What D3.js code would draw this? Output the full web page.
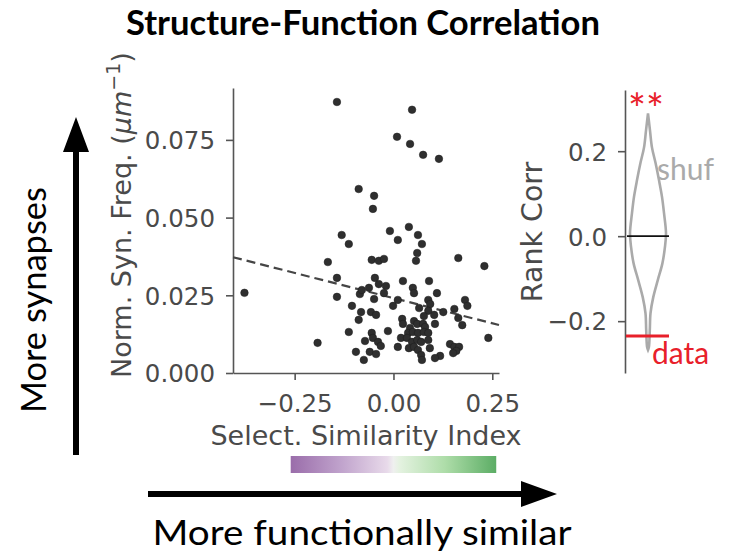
<!DOCTYPE html>
<html>
<head>
<meta charset="utf-8">
<script src="https://cdn.jsdelivr.net/npm/d3@7"></script>
<style>
  body { margin: 0; background: #fff; }
  svg { display: block; }
</style>
</head>
<body>
<svg id="fig" width="729" height="552"></svg>
<script>
// ---- Scatter: selectivity similarity index vs. normalized synapse frequency ----
const simIndex = [
  -0.143, 0.047, 0.009, 0.042, 0.075, 0.115, -0.088, -0.049, -0.052, -0.131,
  -0.113, -0.166, -0.143, -0.377, -0.143, -0.105, -0.082, -0.088, -0.113, -0.192,
  -0.072, -0.095, -0.075, -0.085, -0.080, -0.062, -0.009, 0.039, 0.062, 0.011,
  0.072, 0.060, 0.057, -0.055, -0.037, -0.024, 0.164, 0.230, -0.047, -0.037,
  -0.019, 0.024, 0.049, 0.052, 0.090, 0.110, -0.024, -0.049, 0.011, -0.001,
  0.065, 0.088, 0.093, 0.181, 0.187, 0.154, -0.057, -0.044, 0.088, 0.103,
  0.126, 0.077, 0.164, 0.174, 0.022, 0.024, 0.052, 0.060, 0.075, 0.105,
  0.042, 0.080, -0.014, -0.055, 0.037, 0.049, 0.062, 0.077, 0.088, -0.052,
  -0.039, 0.019, 0.034, 0.047, 0.060, 0.070, 0.088, 0.240, -0.032, 0.011,
  0.039, 0.052, 0.062, 0.092, 0.143, 0.154, 0.166, 0.159, 0.151, -0.060,
  -0.044, 0.070, 0.072, 0.118, 0.105
];
const synFreq = [
  0.0872, 0.0847, 0.0760, 0.0737, 0.0702, 0.0689, 0.0592, 0.0570, 0.0528, 0.0444,
  0.0415, 0.0357, 0.0306, 0.0258, 0.0245, 0.0216, 0.0196, 0.0171, 0.0132, 0.0097,
  0.0103, 0.0068, 0.0042, 0.0254, 0.0267, 0.0274, 0.0457, 0.0470, 0.0444, 0.0428,
  0.0415, 0.0386, 0.0361, 0.0364, 0.0361, 0.0367, 0.0370, 0.0344, 0.0306, 0.0286,
  0.0280, 0.0296, 0.0274, 0.0257, 0.0296, 0.0257, 0.0257, 0.0238, 0.0235, 0.0216,
  0.0209, 0.0235, 0.0222, 0.0235, 0.0216, 0.0206, 0.0196, 0.0187, 0.0200, 0.0187,
  0.0196, 0.0183, 0.0177, 0.0154, 0.0174, 0.0158, 0.0167, 0.0158, 0.0158, 0.0158,
  0.0145, 0.0148, 0.0135, 0.0129, 0.0129, 0.0132, 0.0129, 0.0132, 0.0129, 0.0113,
  0.0100, 0.0113, 0.0113, 0.0100, 0.0106, 0.0100, 0.0106, 0.0113, 0.0087, 0.0084,
  0.0080, 0.0084, 0.0074, 0.0080, 0.0093, 0.0084, 0.0084, 0.0071, 0.0064, 0.0068,
  0.0061, 0.0058, 0.0042, 0.0055, 0.0048
];
// Least-squares trend line
const fitSlope = -0.0324;
const fitIntercept = 0.0241;

const xTicks = [-0.25, 0, 0.25];
const yTicks = [0, 0.025, 0.05, 0.075];
const xDomain = [-0.406, 0.267];
const yDomain = [0, 0.0917];
const cbarRange = [-0.26, 0.26];

// ---- Shuffle distribution of rank correlation (violin outline) ----
const shufCorr = [0.289, 0.249, 0.209, 0.172, 0.132, 0.092, 0.054, 0.007,
                  -0.026, -0.064, -0.104, -0.144, -0.181, -0.221, -0.261, -0.268];
const shufDensity = [0, 0.11, 0.22, 0.42, 0.61, 0.78, 0.89, 1.0,
                     0.94, 0.80, 0.54, 0.29, 0.14, 0.10, 0.05, 0];
const shufMedian = 0.0;
const dataCorr = -0.235;
const corrTicks = [-0.2, 0, 0.2];
const corrDomain = [-0.322, 0.344];

const fmtTick = v => d3.format(".3f")(v);
const fmtX = v => d3.format(".2f")(v).replace("-", "\u2212");
const fmtC = v => d3.format(".1f")(v).replace("-", "\u2212");

const svg = d3.select("#fig");
svg.append("rect").attr("width", 729).attr("height", 552).attr("fill", "#fff");

const axisColor = "#555";
const textColor = "#4a4a4a";
const tickFont = "DejaVu Sans";

// ---------- title ----------
svg.append("text")
  .attr("x", 363).attr("y", 35)
  .attr("text-anchor", "middle")
  .attr("font-family", "Lato").attr("font-weight", 700).attr("font-size", 35)
  .attr("textLength", 474).attr("lengthAdjust", "spacingAndGlyphs")
  .attr("fill", "#000")
  .text("Structure-Function Correlation");

// ---------- scatter ----------
const x = d3.scaleLinear().domain(xDomain).range([233, 499]);
const y = d3.scaleLinear().domain(yDomain).range([373, 88]);

const xAxis = svg.append("g").attr("transform", "translate(0,373)")
  .call(d3.axisBottom(x).tickValues(xTicks).tickSize(7).tickSizeOuter(0).tickFormat(fmtX));
const yAxis = svg.append("g").attr("transform", "translate(233,0)")
  .call(d3.axisLeft(y).tickValues(yTicks).tickSize(7).tickSizeOuter(0).tickFormat(fmtTick));

[xAxis, yAxis].forEach(g => {
  g.select(".domain").attr("stroke", axisColor).attr("stroke-width", 1.6);
  g.selectAll(".tick line").attr("stroke", axisColor).attr("stroke-width", 1.6);
  g.selectAll(".tick text")
    .attr("font-family", tickFont).attr("font-size", 24.5).attr("fill", textColor);
});
xAxis.selectAll(".tick text").attr("dy", null).attr("y", 39);
yAxis.selectAll(".tick text").attr("x", -18).attr("dy", "0.36em");

// trend line
svg.append("line")
  .attr("x1", x(xDomain[0])).attr("y1", y(fitIntercept + fitSlope * xDomain[0]))
  .attr("x2", x(xDomain[1])).attr("y2", y(fitIntercept + fitSlope * xDomain[1]))
  .attr("stroke", "#454545").attr("stroke-width", 2.2)
  .attr("stroke-dasharray", "9,5");

// points
svg.append("g").selectAll("circle")
  .data(d3.zip(simIndex, synFreq))
  .join("circle")
  .attr("cx", d => x(d[0])).attr("cy", d => y(d[1]))
  .attr("r", 3.8)
  .attr("fill", "#2f2f2f").attr("stroke", "#1c1c1c").attr("stroke-width", 0.5);

// axis labels
svg.append("text")
  .attr("x", (x.range()[0] + x.range()[1]) / 2).attr("y", 445)
  .attr("text-anchor", "middle")
  .attr("font-family", tickFont).attr("font-size", 27).attr("fill", textColor)
  .text("Select. Similarity Index");

const yl = svg.append("text")
  .attr("transform", "translate(131,378) rotate(-90)")
  .attr("text-anchor", "start")
  .attr("font-family", tickFont).attr("font-size", 27).attr("fill", textColor);
yl.append("tspan").text("Norm. Syn. Freq. (");
yl.append("tspan").attr("font-style", "italic").text("\u03bcm");
yl.append("tspan").attr("font-size", 19).attr("dy", -11).text("\u22121");
yl.append("tspan").attr("dy", 11).text(")");

// colour bar for the similarity index
const defs = svg.append("defs");
const grad = defs.append("linearGradient").attr("id", "simGrad")
  .attr("x1", "0%").attr("x2", "100%").attr("y1", "0%").attr("y2", "0%");
const gradStops = [[0, 0.2], [0.25, 0.3], [0.47, 0.42], [0.5, 0.5], [0.53, 0.56], [0.75, 0.68], [1, 0.8]];
gradStops.forEach(([o, t]) => {
  grad.append("stop").attr("offset", o).attr("stop-color", d3.interpolatePRGn(t));
});
svg.append("rect")
  .attr("x", x(cbarRange[0])).attr("y", 456)
  .attr("width", x(cbarRange[1]) - x(cbarRange[0])).attr("height", 17)
  .attr("fill", "url(#simGrad)");

// ---------- violin of shuffled rank correlations ----------
const yc = d3.scaleLinear().domain(corrDomain).range([373, 90]);
const cx = 648;
const w = d3.scaleLinear().domain([0, 1]).range([0, 18]);

const cAxis = svg.append("g").attr("transform", "translate(625,0)")
  .call(d3.axisLeft(yc).tickValues(corrTicks).tickSize(7).tickSizeOuter(0).tickFormat(fmtC));
cAxis.select(".domain").attr("stroke", axisColor).attr("stroke-width", 1.6);
cAxis.selectAll(".tick line").attr("stroke", axisColor).attr("stroke-width", 1.6);
cAxis.selectAll(".tick text")
  .attr("font-family", tickFont).attr("font-size", 24.5).attr("fill", textColor)
  .attr("x", -18).attr("dy", "0.36em");

const violin = d3.area()
  .y(d => yc(d[0]))
  .x0(d => cx - w(d[1]))
  .x1(d => cx + w(d[1]))
  .curve(d3.curveCatmullRom);
svg.append("path")
  .attr("d", violin(d3.zip(shufCorr, shufDensity)))
  .attr("fill", "none").attr("stroke", "#aaaaaa").attr("stroke-width", 2.6);

svg.append("line")
  .attr("x1", cx - 21).attr("x2", cx + 21)
  .attr("y1", yc(shufMedian)).attr("y2", yc(shufMedian))
  .attr("stroke", "#111").attr("stroke-width", 1.6);

svg.append("line")
  .attr("x1", 626).attr("x2", cx + 21)
  .attr("y1", yc(dataCorr)).attr("y2", yc(dataCorr))
  .attr("stroke", "#e8202a").attr("stroke-width", 3);

svg.append("text")
  .attr("transform", "translate(542,232) rotate(-90)")
  .attr("text-anchor", "middle")
  .attr("font-family", tickFont).attr("font-size", 28.5).attr("fill", textColor)
  .text("Rank Corr");

svg.append("text")
  .attr("x", 657).attr("y", 180)
  .attr("font-family", "Lato").attr("font-size", 30).attr("fill", "#aaaaaa")
  .text("shuf");
svg.append("text")
  .attr("x", 652).attr("y", 364)
  .attr("font-family", "Lato").attr("font-size", 30).attr("fill", "#e8202a")
  .text("data");
svg.append("text")
  .attr("x", 628).attr("y", 124)
  .attr("font-family", "Lato").attr("font-size", 42).attr("fill", "#e8202a")
  .attr("textLength", 36).attr("lengthAdjust", "spacingAndGlyphs")
  .text("**");

// ---------- direction arrows ----------
svg.append("path")
  .attr("d", "M73,455 L73,152 L63,152 L76,117 L89,152 L79,152 L79,455 Z")
  .attr("fill", "#000");
svg.append("path")
  .attr("d", "M148,491 L521,491 L521,481 L557,494 L521,507 L521,497 L148,497 Z")
  .attr("fill", "#000");

svg.append("text")
  .attr("transform", "translate(46,300) rotate(-90)")
  .attr("text-anchor", "middle")
  .attr("font-family", "Lato").attr("font-size", 35).attr("fill", "#000")
  .attr("textLength", 226).attr("lengthAdjust", "spacingAndGlyphs")
  .text("More synapses");
svg.append("text")
  .attr("x", 362).attr("y", 545)
  .attr("text-anchor", "middle")
  .attr("font-family", "Lato").attr("font-size", 35).attr("fill", "#000")
  .attr("textLength", 419).attr("lengthAdjust", "spacingAndGlyphs")
  .text("More functionally similar");
</script>
</body>
</html>
